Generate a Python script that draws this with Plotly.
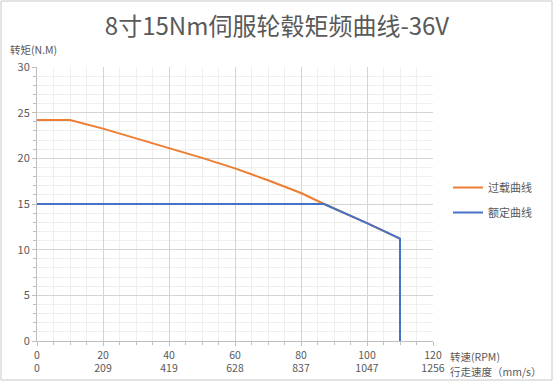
import plotly.graph_objects as go

# data
overload_rpm = [0, 10, 20, 30, 40, 50, 60, 70, 80, 87, 100, 110]
overload_torque = [24.2, 24.2, 23.25, 22.2, 21.15, 20.05, 18.9, 17.6, 16.2, 15.0, 12.9, 11.2]
rated_rpm = [0, 87, 100, 110, 110]
rated_torque = [15.0, 15.0, 12.9, 11.2, 0]
rpm_ticks = [0, 20, 40, 60, 80, 100, 120]
speed_ticks = ["0", "209", "419", "628", "837", "1047", "1256"]

W, H = 554, 382
L, R, T, B = 37, 121, 67, 41
PW, PH = W - L - R, H - T - B
FONT = "Noto Sans CJK SC"
TXT = "#595959"


def px(x):
    return (x - L) / PW


def py(y):
    return (H - B - y) / PH


fig = go.Figure()
fig.add_trace(go.Scatter(x=overload_rpm, y=overload_torque, mode="lines", name="过载曲线",
                         legendgroup="a", line=dict(color="#ED7D31", width=2)))
fig.add_trace(go.Scatter(x=rated_rpm, y=rated_torque, mode="lines", name="额定曲线",
                         legendgroup="b", line=dict(color="#4472C4", width=2)))

fig.update_layout(
    width=W, height=H,
    margin=dict(l=L, r=R, t=T, b=B, autoexpand=False),
    paper_bgcolor="white", plot_bgcolor="white",
    font=dict(family=FONT, size=11, color=TXT),
    title=dict(text="8寸15Nm伺服轮毂矩频曲线-36V", x=0.5, xanchor="center", y=1 - 27 / H, yanchor="middle",
               font=dict(size=24, color=TXT, family=FONT)),
    legend=dict(x=px(448), xanchor="left", y=py(173), yanchor="top", font=dict(size=11, color=TXT),
                bgcolor="rgba(0,0,0,0)", tracegroupgap=6, itemwidth=30),
    xaxis=dict(range=[0, 120], tickmode="array", tickvals=rpm_ticks,
               ticktext=[f"{r}<br>{s}" for r, s in zip(rpm_ticks, speed_ticks)],
               showgrid=True, gridcolor="#d4d4d4", gridwidth=1,
               showline=True, linecolor="#bfbfbf", linewidth=1,
               ticks="outside", ticklen=4, tickcolor="#bfbfbf",
               minor=dict(dtick=5, tick0=0, showgrid=True, gridcolor="#eeeeee", ticks="outside",
                          ticklen=3, tickcolor="#bfbfbf"),
               zeroline=False, tickfont=dict(size=10.5, color=TXT), fixedrange=True, automargin=False),
    yaxis=dict(range=[0, 30], dtick=5, tick0=0,
               showgrid=True, gridcolor="#d4d4d4", gridwidth=1,
               showline=True, linecolor="#bfbfbf", linewidth=1,
               ticks="outside", ticklen=4, tickcolor="#bfbfbf",
               minor=dict(dtick=1, showgrid=True, gridcolor="#eeeeee", ticks="outside",
                          ticklen=3, tickcolor="#bfbfbf"),
               zeroline=False, tickfont=dict(size=11, color=TXT), fixedrange=True, automargin=False),
    showlegend=True,
)

# axis titles
fig.add_annotation(text="转矩(N.M)", xref="paper", yref="paper", x=px(8), y=py(50),
                   xanchor="left", yanchor="middle", showarrow=False,
                   font=dict(size=10.5, color=TXT, family=FONT))
fig.add_annotation(text="转速(RPM)", xref="paper", yref="paper", x=px(448), y=py(356),
                   xanchor="left", yanchor="middle", showarrow=False,
                   font=dict(size=10.5, color=TXT, family=FONT))
fig.add_annotation(text="行走速度（mm/s）", xref="paper", yref="paper", x=px(448), y=py(371),
                   xanchor="left", yanchor="middle", showarrow=False,
                   font=dict(size=10.5, color=TXT, family=FONT))

# outer chart frame
fig.add_shape(type="rect", xref="paper", yref="paper",
              x0=px(1), x1=px(W - 2), y0=py(H - 2), y1=py(1),
              line=dict(color="#c8c8c8", width=1), layer="below")

fig.write_html("out.html", config={"displayModeBar": False},
               post_script="document.body.style.margin='0';")
